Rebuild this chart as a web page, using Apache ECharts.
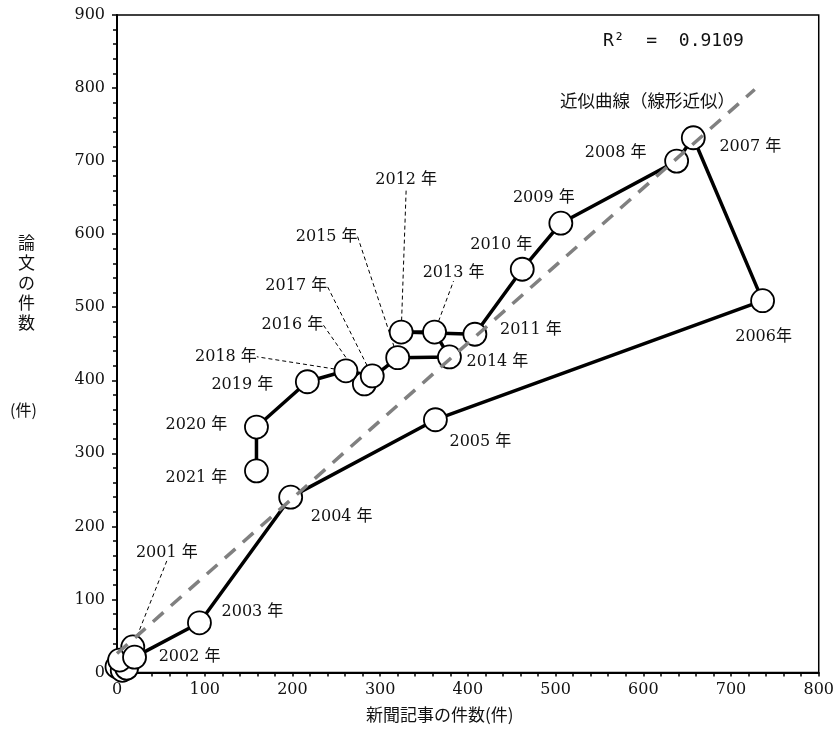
<!DOCTYPE html>
<html>
<head>
<meta charset="utf-8">
<script src="https://cdn.jsdelivr.net/npm/echarts@6/dist/echarts.min.js"></script>
<style>html,body{margin:0;padding:0;background:#fff;}#c{width:837px;height:735px;}</style>
</head>
<body>
<div id="c"></div>
<script>
// ---- data ----
const years    = [1997, 1998, 1999, 2000, 2001, 2002, 2003, 2004, 2005, 2006, 2007, 2008, 2009, 2010, 2011, 2012, 2013, 2014, 2015, 2016, 2017, 2018, 2019, 2020, 2021];
const articles = [0, 6, 11, 3, 18, 20, 94, 198, 363, 736, 657, 638, 506, 462, 408, 324, 362, 379, 320, 282, 291, 261, 217, 159, 159];
const papers   = [8, 3, 6, 17, 35, 21, 68, 240, 346, 509, 732, 700, 615, 552, 463, 466, 466, 432, 431, 395, 406, 413, 398, 336, 276];
const trendX   = [0, 727];
const trendY   = [26, 798];
const xTickMax = 800, yTickMax = 900, tickStep = 100;
const r2Text = 'R²  =  0.9109';
const trendText = '近似曲線（線形近似）';
const xName = '新聞記事の件数(件)';
const yName = '論文の件数';
const yUnit = '(件)';

// ---- label layout (text placement, pixels relative to mark) ----
const labelOffsets = {
  2001: [34, -94], 2002: [55, 0], 2003: [53, -11], 2004: [51, 20], 2005: [45, 22],
  2006: [1, 36], 2007: [57, 9], 2008: [-61, -8], 2009: [-17, -25], 2010: [-21, -24],
  2011: [56, -4], 2012: [5, -152], 2013: [19, -59], 2014: [48, 5], 2015: [-71, -121],
  2016: [-72, -59], 2017: [-76, -90], 2018: [-120, -14], 2019: [-65, 3], 2020: [-60, -2], 2021: [-60, 7]
};
const leaderYears = [2001, 2012, 2013, 2015, 2016, 2017, 2018];

const serif = "'DejaVu Serif','Noto Sans CJK JP',serif";

const mainData = years.map((y, i) => {
  const has = labelOffsets[y] !== undefined;
  return {
    value: [articles[i], papers[i]],
    label: { show: has, formatter: y === 2006 ? y + '年' : y + ' 年' },
    labelLine: { show: leaderYears.indexOf(y) >= 0 }
  };
});

const chart = echarts.init(document.getElementById('c'), null, { renderer: 'canvas' });
chart.setOption({
  animation: false,
  backgroundColor: '#fff',
  grid: { left: 117, top: 15, right: 15.5, bottom: 62.5, show: true, borderColor: '#000', borderWidth: 1.5 },
  xAxis: {
    type: 'value', min: 0, max: xTickMax, interval: tickStep,
    axisLine: { lineStyle: { color: '#000', width: 2 } },
    axisTick: { show: true, inside: false, length: 4, lineStyle: { color: '#000', width: 1.5 } },
    minorTick: { show: true, splitNumber: 5, length: 4, lineStyle: { color: '#000', width: 1.5 } },
    splitLine: { show: false },
    axisLabel: { color: '#111', fontSize: 16, fontFamily: serif, margin: 9 }
  },
  yAxis: {
    type: 'value', min: 0, max: yTickMax, interval: tickStep,
    axisLine: { lineStyle: { color: '#000', width: 2 } },
    axisTick: { show: true, inside: false, length: 5, lineStyle: { color: '#000', width: 1.5 } },
    minorTick: { show: true, splitNumber: 5, length: 4, lineStyle: { color: '#000', width: 1.5 } },
    splitLine: { show: false },
    axisLabel: { color: '#111', fontSize: 16, fontFamily: serif, margin: 12 }
  },
  graphic: [
    { type: 'text', left: 366, top: 706, style: { text: xName, fontSize: 17, fontFamily: "'Noto Sans CJK JP'", fill: '#111' } },
    { type: 'text', left: 18, top: 233, style: { text: yName.split('').join('\n'), fontSize: 17, lineHeight: 20, fontFamily: "'Noto Sans CJK JP'", fill: '#111', align: 'center' } },
    { type: 'text', left: 10, top: 402, style: { text: yUnit, fontSize: 16, fontFamily: "'Noto Sans CJK JP'", fill: '#111' } },
    { type: 'text', left: 603, top: 32, style: { text: r2Text, fontSize: 18, fontFamily: "'DejaVu Sans Mono','Liberation Mono',monospace", fill: '#111' } },
    { type: 'text', left: 560, top: 92, style: { text: trendText, fontSize: 17.5, fontFamily: "'Noto Sans CJK JP'", fill: '#111' } }
  ],
  series: [
    {
      type: 'line', data: mainData, clip: false, z: 2,
      symbol: 'circle', symbolSize: 23,
      itemStyle: { color: '#fff', borderColor: '#000', borderWidth: 1.8 },
      lineStyle: { color: '#000', width: 3.5 },
      label: { position: 'inside', align: 'center', verticalAlign: 'middle', color: '#111', fontSize: 16, fontFamily: serif },
      labelLine: { lineStyle: { color: '#000', width: 1, type: [4, 3] } },
      labelLayout: function (p) {
        const y = years[p.dataIndex];
        const o = labelOffsets[y];
        if (!o) return {};
        return { dx: o[0], dy: o[1] };
      },
      emphasis: { disabled: true }
    },
    {
      type: 'line', data: trendX.map((x, i) => [x, trendY[i]]), z: 5, clip: false,
      symbol: 'none', silent: true,
      lineStyle: { color: '#808080', width: 3.5, type: [14, 10] }
    }
  ]
});
</script>
</body>
</html>
